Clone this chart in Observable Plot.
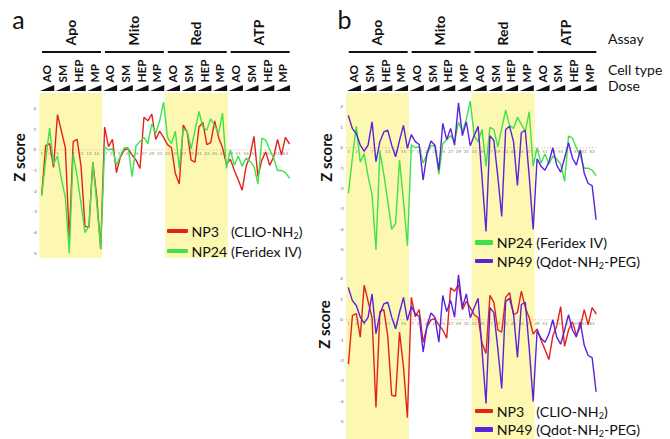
<!DOCTYPE html>
<html><head><meta charset="utf-8">
<script src="https://cdn.jsdelivr.net/npm/d3@7"></script>
<script src="https://cdn.jsdelivr.net/npm/@observablehq/plot@0.6"></script>
<style>
body{margin:0;background:#fff;font-family:Lato,"Open Sans",sans-serif;}
#fig{position:relative;width:670px;height:439px;overflow:hidden;background:#fff;}
.layer{position:absolute;left:0;}
.legend{position:absolute;display:grid;align-items:center;font-size:14.2px;color:#111;}
.legend .sw{height:4.5px;border-radius:1px;}
.legend sub{font-size:9px;vertical-align:-2px;line-height:0;}
</style></head><body><div id="fig"></div>
<script>
// ---- data ----
const assays = ["Apo", "Mito", "Red", "ATP"];
const cellTypes = ["AO", "SM", "HEP", "MP"];
const highlighted = ["Apo", "Red"];
const xTickLabels = [1,3,5,7,9,11,13,15,17,19,21,23,25,27,29,31,33,35,37,39,41,43,45,47,49,51,53,55,57,59,61,63];
const yTickLabels = [2,1,0,-1,-2,-3,-4,-5];

const np3 = [-2.15,0.2,0.3,-0.85,1.7,0.9,0.1,-4.3,0.4,0.5,-0.8,-3.7,-3.75,-0.6,-2.3,-4.8,
  1.1,0.15,0.5,-1.1,-0.35,0.0,0.05,-0.25,-0.5,-0.9,1.57,1.4,1.73,0.5,0.9,0.6,
  0.25,0.1,-1.15,-1.65,1.2,0.85,-0.5,-0.6,1.1,1.33,0.25,0.35,1.4,0.6,0.1,-0.7,
  -0.45,-1.0,-1.45,-1.95,-0.8,-0.3,0.65,-1.3,-0.5,-0.1,-0.75,-0.35,0.5,-0.25,0.6,0.3];
const np24 = [-2.2,-0.5,1.05,-0.7,-0.3,-1.4,-2.3,-5.0,-0.2,-1.3,-2.6,-4.0,-3.7,-0.6,-2.6,-4.8,
  0.15,0.0,0.05,-0.75,-0.3,0.1,0.1,-1.3,0.2,0.4,0.6,0.3,1.25,0.8,1.4,2.3,
  0.6,0.3,0.9,-0.9,1.0,0.9,0.05,0.95,1.85,1.1,0.95,1.5,1.15,0.8,1.77,-0.9,
  0.0,-0.75,-0.3,-0.8,-0.4,-0.55,-0.8,-1.65,0.57,0.47,0.0,-0.4,-1.0,-1.0,-1.1,-1.35];
const np49 = [1.56,0.94,0.7,0.13,-0.16,0.13,1.27,-0.68,0.3,0.78,0.86,0.13,-0.44,0.37,1.1,-0.03,
  0.65,0.3,0.16,-1.58,-0.28,0.33,0.13,-1.1,1.19,0.4,0.95,0.13,2.2,0.6,1.27,0.1,
  0.6,1.05,-1.5,-4.1,0.6,0.35,-1.4,-3.37,0.9,1.05,0.3,-1.84,0.75,0.85,-1.4,-4.0,
  -0.54,-0.9,-1.1,-0.7,0.0,-0.85,-1.2,-0.5,0.25,-0.5,-0.85,-0.1,-1.25,-1.75,-1.85,-3.5];

const seriesNames = ["NP3", "NP24", "NP49"];
const seriesDesc = ["(CLIO-NH<sub>2</sub>)", "(Feridex IV)", "(Qdot-NH<sub>2</sub>-PEG)"];
const seriesColors = ["#e4221c", "#3fe24a", "#5a22dc"];
const seriesValues = {NP3: np3, NP24: np24, NP49: np49};
const rowLabels = ["Assay", "Cell type", "Dose"];

// ---- helpers ----
const W = 670;
const fig = document.getElementById("fig");
const YELLOW = "#fcf8b2";
const groupSize = cellTypes.length * 4;

const bands = highlighted.map(a => {
  const i = assays.indexOf(a);
  return {x1: i * groupSize + 0.5, x2: (i + 1) * groupSize + 0.5};
});
const assayRows = assays.map((a, i) => ({label: a, x: i * groupSize + groupSize / 2 + 0.5, x1: i * groupSize + 1.2, x2: i * groupSize + 16.2}));
const cellRows = assays.flatMap((a, i) => cellTypes.map((c, j) => ({label: c, x: i * groupSize + j * 4 + 2.5})));
const wedgeRows = cellRows.flatMap((c, k) => [
  {id: k, x: c.x - 1.8, y: 91},
  {id: k, x: c.x + 1.8, y: 85}
]);

function place(el, top) {
  el.classList.add("layer");
  el.style.top = top + "px";
  fig.appendChild(el);
}

const baseStyle = {fontFamily: "Lato, 'Open Sans', sans-serif", background: "transparent", overflow: "visible", color: "#111"};

function header(xr, letter, letterDx, withRowLabels) {
  const marks = [
    Plot.text([letter], {x: 0.5, y: 20, text: d => d, dx: letterDx, textAnchor: "start", fontSize: 25}),
    Plot.text(assayRows, {x: "x", y: 45, text: "label", rotate: -90, textAnchor: "start", fontSize: 14, fontWeight: "bold"}),
    Plot.ruleY(assayRows, {x1: "x1", x2: "x2", y: 51.5, stroke: "#111", strokeWidth: 1.8}),
    Plot.text(cellRows, {x: "x", y: 82, text: "label", rotate: -90, textAnchor: "start", fontSize: 11.8, fontWeight: "bold"}),
    Plot.area(wedgeRows, {x1: "x", y1: 91, y2: "y", z: "id", fill: "#111", curve: "linear"})
  ];
  if (withRowLabels) {
    marks.push(Plot.text(rowLabels, {
      x: 64.5, y: (d, i) => [43, 74.5, 90.7][i], dx: 10, text: d => d,
      textAnchor: "start", lineAnchor: "bottom", fontSize: 14
    }));
  }
  return Plot.plot({
    width: W, height: 95, marginLeft: xr[0], marginRight: W - xr[1], marginTop: 0, marginBottom: 0,
    x: {domain: [0.5, 64.5], axis: null},
    y: {domain: [0, 95], range: [0, 95], axis: null},
    style: baseStyle,
    marks
  });
}

function dataPanel(xr, top, height, zero, unit, names, zDx, zY) {
  const rows = names.flatMap(n => seriesValues[n].map((v, i) => ({name: n, x: i + 1, y: v})));
  return Plot.plot({
    width: W, height, marginLeft: xr[0], marginRight: W - xr[1], marginTop: 0, marginBottom: 0,
    x: {domain: [0.5, 64.5], axis: null},
    y: {domain: [(zero - (top + height)) / unit, (zero - top) / unit], axis: null},
    color: {domain: seriesNames, range: seriesColors},
    style: baseStyle,
    marks: [
      Plot.rect(bands, {x1: "x1", x2: "x2", fill: YELLOW}),
      Plot.ruleY([0], {x1: 0.5, x2: 64.5, stroke: "#d9aa80", strokeDasharray: "1.2,1.8", strokeWidth: 0.8}),
      Plot.text(xTickLabels, {x: d => d, y: 0, dy: 3.6, text: d => String(d), fontSize: 4.6, fill: "#8a8a72"}),
      Plot.text(yTickLabels, {x: 0.5, y: d => d, dx: -5, text: d => String(d), fontSize: 4.6, fill: "#666"}),
      Plot.text(["Z score"], {x: 0.5, y: zY, dx: zDx, text: d => d, rotate: -90, fontSize: 15, fontWeight: "bold"}),
      Plot.line(rows, {x: "x", y: "y", z: "name", stroke: "name", strokeWidth: 1.4, strokeLinejoin: "miter"})
    ]
  });
}

function legend(left, top, rowH, swW, nameW, names) {
  const div = document.createElement("div");
  div.className = "legend";
  div.style.left = left + "px";
  div.style.top = top + "px";
  div.style.gridTemplateColumns = `${swW}px ${nameW}px auto`;
  div.style.gridAutoRows = rowH + "px";
  names.forEach(n => {
    const i = seriesNames.indexOf(n);
    const sw = document.createElement("div");
    sw.className = "sw"; sw.style.background = seriesColors[i]; sw.style.marginRight = "3.5px";
    const nm = document.createElement("div"); nm.textContent = n;
    const ds = document.createElement("div"); ds.innerHTML = seriesDesc[i];
    div.append(sw, nm, ds);
  });
  fig.appendChild(div);
}

// ---- panel a ----
const xa = [39.3, 290.8];
place(header(xa, "a", -27.5, false), 0);
place(dataPanel(xa, 93, 165, 149.3, 20.7, ["NP3", "NP24"], -19.5, -0.37), 93);
legend(166.7, 221, 20, 24.7, 39.5, ["NP3", "NP24"]);

// ---- panel b ----
const xb = [346, 597.5];
place(header(xb, "b", -9, true), 0);
place(dataPanel(xb, 93, 162, 147.3, 20.4, ["NP24", "NP49"], -19.5, -0.48), 93);
place(dataPanel(xb, 255, 184, 319.3, 20.4, ["NP3", "NP49"], -21, -0.23), 255);
legend(475, 233.5, 18.4, 21.7, 39.5, ["NP24", "NP49"]);
legend(475, 402, 18.4, 21.7, 39.5, ["NP3", "NP49"]);
</script></body></html>
